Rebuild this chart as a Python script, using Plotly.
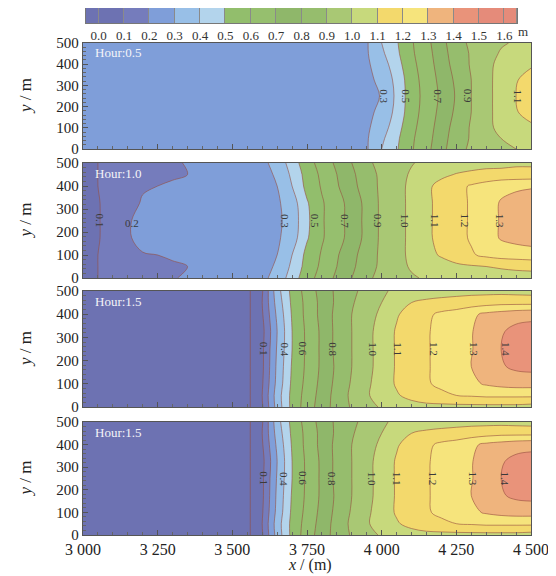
import plotly.graph_objects as go

# ---------------- data ----------------
X_COLS = [3000, 3100, 3200, 3300, 3400, 3500, 3560, 3600, 3650, 3700, 3750, 3800, 3850,
          3900, 3950, 4000, 4050, 4100, 4150, 4200, 4250, 4300, 4350, 4400, 4450, 4500]
Y_ROWS = [0, 50, 100, 175, 250, 325, 400, 450, 500]

# water depth (m), rows follow Y_ROWS (bottom -> top), columns follow X_COLS
DEPTH_H05 = [
    [0.24, 0.24, 0.25, 0.25, 0.25, 0.25, 0.25, 0.25, 0.25, 0.25, 0.25, 0.25, 0.25,
     0.25, 0.29, 0.40, 0.49, 0.59, 0.67, 0.77, 0.86, 0.92, 0.96, 0.98, 1.00, 1.02],
    [0.24, 0.24, 0.25, 0.25, 0.25, 0.25, 0.25, 0.25, 0.25, 0.25, 0.25, 0.26, 0.26,
     0.26, 0.29, 0.38, 0.48, 0.585, 0.66, 0.76, 0.85, 0.91, 0.96, 1.00, 1.03, 1.05],
    [0.24, 0.24, 0.25, 0.25, 0.25, 0.25, 0.25, 0.25, 0.25, 0.25, 0.25, 0.26, 0.26,
     0.26, 0.285, 0.35, 0.46, 0.575, 0.65, 0.75, 0.84, 0.91, 0.97, 1.03, 1.065, 1.085],
    [0.24, 0.24, 0.25, 0.25, 0.25, 0.25, 0.25, 0.25, 0.25, 0.25, 0.25, 0.26, 0.26,
     0.265, 0.28, 0.32, 0.43, 0.56, 0.64, 0.73, 0.82, 0.90, 0.97, 1.04, 1.095, 1.13],
    [0.24, 0.24, 0.25, 0.25, 0.25, 0.25, 0.25, 0.25, 0.25, 0.25, 0.25, 0.26, 0.26,
     0.265, 0.27, 0.305, 0.42, 0.56, 0.63, 0.72, 0.81, 0.90, 0.97, 1.04, 1.10, 1.15],
    [0.24, 0.24, 0.25, 0.25, 0.25, 0.25, 0.25, 0.25, 0.25, 0.25, 0.25, 0.26, 0.26,
     0.265, 0.28, 0.32, 0.43, 0.56, 0.64, 0.73, 0.82, 0.90, 0.97, 1.04, 1.095, 1.13],
    [0.24, 0.24, 0.25, 0.25, 0.25, 0.25, 0.25, 0.25, 0.25, 0.25, 0.25, 0.26, 0.26,
     0.26, 0.285, 0.35, 0.46, 0.575, 0.65, 0.75, 0.84, 0.91, 0.97, 1.03, 1.07, 1.09],
    [0.24, 0.24, 0.25, 0.25, 0.25, 0.25, 0.25, 0.25, 0.25, 0.25, 0.25, 0.26, 0.26,
     0.26, 0.29, 0.38, 0.48, 0.585, 0.66, 0.76, 0.85, 0.91, 0.96, 1.01, 1.04, 1.06],
    [0.24, 0.24, 0.25, 0.25, 0.25, 0.25, 0.25, 0.25, 0.25, 0.25, 0.25, 0.25, 0.25,
     0.25, 0.29, 0.40, 0.49, 0.59, 0.67, 0.77, 0.86, 0.92, 0.96, 0.99, 1.01, 1.03],
]

DEPTH_H10 = [
    [0.08, 0.12, 0.17, 0.197, 0.215, 0.25, 0.26, 0.28, 0.33, 0.45, 0.56, 0.64, 0.72,
     0.80, 0.88, 0.93, 0.97, 0.99, 1.01, 1.03, 1.04, 1.05, 1.06, 1.06, 1.07, 1.07],
    [0.08, 0.12, 0.16, 0.19, 0.21, 0.25, 0.26, 0.275, 0.31, 0.42, 0.54, 0.62, 0.70,
     0.78, 0.86, 0.92, 0.97, 1.01, 1.04, 1.06, 1.08, 1.09, 1.10, 1.11, 1.115, 1.12],
    [0.08, 0.12, 0.19, 0.21, 0.24, 0.26, 0.265, 0.275, 0.30, 0.40, 0.53, 0.61, 0.69,
     0.77, 0.85, 0.92, 0.97, 1.02, 1.07, 1.11, 1.15, 1.19, 1.22, 1.24, 1.25, 1.26],
    [0.08, 0.115, 0.25, 0.26, 0.265, 0.27, 0.27, 0.275, 0.285, 0.35, 0.49, 0.59, 0.66,
     0.74, 0.83, 0.92, 0.97, 1.02, 1.08, 1.13, 1.17, 1.21, 1.25, 1.31, 1.33, 1.34],
    [0.08, 0.115, 0.25, 0.26, 0.265, 0.27, 0.27, 0.275, 0.28, 0.34, 0.48, 0.59, 0.66,
     0.74, 0.83, 0.92, 0.97, 1.02, 1.08, 1.13, 1.17, 1.21, 1.25, 1.31, 1.34, 1.35],
    [0.08, 0.115, 0.21, 0.25, 0.265, 0.27, 0.27, 0.275, 0.285, 0.35, 0.49, 0.59, 0.66,
     0.74, 0.83, 0.92, 0.97, 1.02, 1.08, 1.13, 1.17, 1.21, 1.25, 1.31, 1.34, 1.35],
    [0.08, 0.12, 0.19, 0.21, 0.24, 0.26, 0.265, 0.275, 0.30, 0.40, 0.53, 0.61, 0.69,
     0.77, 0.85, 0.92, 0.97, 1.02, 1.08, 1.13, 1.17, 1.21, 1.24, 1.27, 1.28, 1.29],
    [0.08, 0.12, 0.16, 0.19, 0.21, 0.25, 0.26, 0.275, 0.31, 0.42, 0.54, 0.62, 0.70,
     0.78, 0.86, 0.92, 0.97, 1.01, 1.05, 1.08, 1.105, 1.12, 1.13, 1.135, 1.14, 1.14],
    [0.08, 0.12, 0.17, 0.195, 0.21, 0.25, 0.26, 0.28, 0.33, 0.45, 0.56, 0.64, 0.72,
     0.80, 0.88, 0.93, 0.97, 0.995, 1.02, 1.04, 1.05, 1.06, 1.07, 1.07, 1.08, 1.08],
]

DEPTH_H15 = [
    [0.0, 0.0, 0.0, 0.0, 0.0, 0.0, 0.0, 0.09, 0.34, 0.53, 0.65, 0.75, 0.84,
     0.91, 0.97, 1.01, 1.04, 1.06, 1.07, 1.07, 1.07, 1.07, 1.07, 1.07, 1.07, 1.06],
    [0.0, 0.0, 0.0, 0.0, 0.0, 0.0, 0.0, 0.10, 0.35, 0.53, 0.64, 0.74, 0.84,
     0.92, 0.99, 1.04, 1.09, 1.13, 1.16, 1.18, 1.20, 1.21, 1.22, 1.22, 1.22, 1.22],
    [0.0, 0.0, 0.0, 0.0, 0.0, 0.0, 0.0, 0.09, 0.33, 0.52, 0.63, 0.73, 0.83,
     0.91, 0.98, 1.05, 1.11, 1.15, 1.19, 1.22, 1.25, 1.28, 1.31, 1.33, 1.34, 1.34],
    [0.0, 0.0, 0.0, 0.0, 0.0, 0.0, 0.0, 0.08, 0.32, 0.51, 0.62, 0.72, 0.82,
     0.90, 0.97, 1.04, 1.11, 1.15, 1.19, 1.23, 1.26, 1.30, 1.34, 1.39, 1.42, 1.43],
    [0.0, 0.0, 0.0, 0.0, 0.0, 0.0, 0.0, 0.08, 0.31, 0.50, 0.62, 0.72, 0.83,
     0.90, 0.97, 1.04, 1.11, 1.15, 1.19, 1.23, 1.26, 1.295, 1.34, 1.40, 1.44, 1.46],
    [0.0, 0.0, 0.0, 0.0, 0.0, 0.0, 0.0, 0.07, 0.30, 0.50, 0.62, 0.72, 0.83,
     0.90, 0.97, 1.04, 1.11, 1.15, 1.19, 1.23, 1.26, 1.295, 1.34, 1.39, 1.43, 1.44],
    [0.0, 0.0, 0.0, 0.0, 0.0, 0.0, 0.0, 0.09, 0.32, 0.51, 0.63, 0.73, 0.83,
     0.90, 0.96, 1.02, 1.09, 1.14, 1.18, 1.22, 1.24, 1.28, 1.32, 1.34, 1.36, 1.37],
    [0.0, 0.0, 0.0, 0.0, 0.0, 0.0, 0.0, 0.10, 0.34, 0.52, 0.63, 0.73, 0.82,
     0.89, 0.95, 1.00, 1.06, 1.10, 1.12, 1.13, 1.14, 1.15, 1.16, 1.17, 1.17, 1.17],
    [0.0, 0.0, 0.0, 0.0, 0.0, 0.0, 0.0, 0.09, 0.36, 0.53, 0.64, 0.74, 0.82,
     0.88, 0.93, 0.985, 1.02, 1.04, 1.05, 1.06, 1.065, 1.07, 1.07, 1.07, 1.065, 1.06],
]

PANEL_TITLES = ["Hour:0.5", "Hour:1.0", "Hour:1.5", "Hour:1.5"]
PANEL_DATA = [DEPTH_H05, DEPTH_H10, DEPTH_H15, DEPTH_H15]

# contour labels (text, x position) per panel
LABELS_H05 = [("0.3", 4007), ("0.5", 4081), ("0.7", 4188), ("0.9", 4290), ("1.1", 4455)]
LABELS_H10 = [("0.1", 3057), ("0.3", 3678), ("0.5", 3779), ("0.7", 3879), ("0.9", 3990),
              ("1.0", 4081), ("1.1", 4181), ("1.2", 4282), ("1.3", 4399)]
LABELS_H15 = [("0.1", 3607), ("0.4", 3675), ("0.6", 3738), ("0.8", 3836), ("1.0", 3970),
              ("1.1", 4054), ("1.2", 4175), ("1.3", 4309), ("1.4", 4416)]
PANEL_LABELS = [LABELS_H05, LABELS_H10, LABELS_H15, LABELS_H15]
LABEL_02_H10 = ("0.2", 3165, 240)  # horizontal label

LEVEL_START, LEVEL_END, LEVEL_STEP = 0.0, 1.6, 0.1
# colour of: below 0, 0.0-0.1, 0.1-0.2, ..., 1.5-1.6, above 1.6
BAND_COLORS = ["#6d72b2", "#6d72b2", "#757cbc", "#7f9ed9", "#98bfe7", "#b3d4ec",
               "#92be6c", "#96bf6e", "#8fb76a", "#96bd6d", "#a9c874", "#c7d97c",
               "#f3d96c", "#f6e47c", "#efb47d", "#e9937a", "#e58b7a", "#e58b7a"]
LEGEND_EDGES = [-0.05, 0.0, 0.1, 0.2, 0.3, 0.4, 0.5, 0.6, 0.7, 0.8, 0.9, 1.0,
                1.1, 1.2, 1.3, 1.4, 1.5, 1.6, 1.65]
LEGEND_TICKS = [0.0, 0.1, 0.2, 0.3, 0.4, 0.5, 0.6, 0.7, 0.8, 0.9, 1.0, 1.1,
                1.2, 1.3, 1.4, 1.5, 1.6]
LEGEND_TICK_TEXT = ["0.0", "0.1", "0.2", "0.3", "0.4", "0.5", "0.6", "0.7", "0.8",
                    "0.9", "1.0", "1.1", "1.2", "1.3", "1.4", "1.5", "1.6"]

X_TICKS = [3000, 3250, 3500, 3750, 4000, 4250, 4500]
X_TICK_TEXT = ["3 000", "3 250", "3 500", "3 750", "4 000", "4 250", "4 500"]
Y_TICKS = [0, 100, 200, 300, 400, 500]

# ---------------- layout geometry (screen pixels) ----------------
PAGE_OFFSET = 8          # the page body margin shifts the figure by this much
W, H = 556 - PAGE_OFFSET, 576 - PAGE_OFFSET
PLOT_X = (83, 531)
PANEL_PX = [(43, 149), (163, 278), (291, 407), (422, 535)]
LEG_X = (86, 517)
LEG_Y = (8, 23)
SERIF = "Liberation Serif, Times New Roman, serif"

def px(x):
    return (x - PAGE_OFFSET) / W

def py(y):
    return 1 - (y - PAGE_OFFSET) / H

fig = go.Figure()

n = len(BAND_COLORS) - 1
contour_cs = [[i / n, c] for i, c in enumerate(BAND_COLORS)]

annotations = []
layout = {}
for i, (data, title, labels) in enumerate(zip(PANEL_DATA, PANEL_TITLES, PANEL_LABELS)):
    k = "" if i == 0 else str(i + 1)
    fig.add_trace(go.Contour(
        x=X_COLS, y=Y_ROWS, z=data,
        autocontour=False,
        contours=dict(start=LEVEL_START, end=LEVEL_END, size=LEVEL_STEP,
                      coloring="fill", showlines=True),
        line=dict(color="rgba(150,78,62,0.75)", width=0.8),
        colorscale=contour_cs, showscale=False, hoverinfo="skip",
        xaxis="x" + k, yaxis="y" + k,
    ))
    top, bot = PANEL_PX[i]
    last = i == len(PANEL_DATA) - 1
    layout["xaxis" + k] = dict(
        domain=[px(PLOT_X[0]), px(PLOT_X[1])], range=[3000, 4500], automargin=False,
        anchor="y" + k, showline=True, mirror=True, linecolor="#555", linewidth=1.3,
        ticks="inside", ticklen=5, tickcolor="#555",
        tickvals=X_TICKS, ticktext=X_TICK_TEXT, showticklabels=last,
        minor=dict(ticks="inside", ticklen=3, dtick=50, tickcolor="#666"),
        showgrid=False, zeroline=False,
        tickfont=dict(family=SERIF, size=16, color="#222"),
    )
    layout["yaxis" + k] = dict(
        domain=[py(bot), py(top)], range=[0, 500], anchor="x" + k, automargin=False,
        showline=True, mirror=True, linecolor="#555", linewidth=1.3,
        ticks="inside", ticklen=5, tickcolor="#555", tickvals=Y_TICKS,
        minor=dict(ticks="inside", ticklen=2.5, dtick=20, tickcolor="#666"),
        showgrid=False, zeroline=False,
        tickfont=dict(family=SERIF, size=15, color="#222"),
    )
    annotations.append(dict(
        xref="paper", yref="paper", x=px(93), y=py(top + 10), xanchor="left",
        yanchor="middle", text=title, showarrow=False,
        font=dict(family=SERIF, size=13, color="#f4f4f8"),
    ))
    annotations.append(dict(
        xref="paper", yref="paper", x=px(25), y=py((top + bot) / 2),
        xanchor="center", yanchor="middle",
        text="<i>y</i> / m", textangle=-90, showarrow=False,
        font=dict(family=SERIF, size=17, color="#222"),
    ))
    for txt, xv in labels:
        annotations.append(dict(
            xref="x" + k, yref="y" + k, x=xv, y=250, text=txt, textangle=90,
            xanchor="center", yanchor="middle",
            showarrow=False, font=dict(family=SERIF, size=11, color="#3a3a3a"),
        ))
    if i == 1:
        annotations.append(dict(
            xref="x2", yref="y2", x=LABEL_02_H10[1], y=LABEL_02_H10[2],
            xanchor="center", yanchor="middle",
            text=LABEL_02_H10[0], showarrow=False,
            font=dict(family=SERIF, size=11, color="#3a3a3a"),
        ))

# legend bar
leg_cs = []
for i, c in enumerate(BAND_COLORS):
    leg_cs.append([i / len(BAND_COLORS), c])
    leg_cs.append([(i + 1) / len(BAND_COLORS), c])
fig.add_trace(go.Heatmap(
    x=LEGEND_EDGES, y=[0, 1], z=[[i + 0.5 for i in range(len(BAND_COLORS))]],
    colorscale=leg_cs, zmin=0, zmax=len(BAND_COLORS), showscale=False,
    xgap=1, hoverinfo="skip", xaxis="x5", yaxis="y5",
))
layout["xaxis5"] = dict(
    domain=[px(LEG_X[0]), px(LEG_X[1])], range=[LEGEND_EDGES[0], LEGEND_EDGES[-1]],
    anchor="y5", showline=True, mirror=True, linecolor="#777", linewidth=1,
    tickvals=LEGEND_TICKS, ticktext=LEGEND_TICK_TEXT, ticks="", automargin=False,
    showgrid=False, zeroline=False,
    tickfont=dict(family=SERIF, size=13, color="#333"),
)
layout["yaxis5"] = dict(
    domain=[py(LEG_Y[1]), min(1.0, py(LEG_Y[0]))], range=[0, 1], anchor="x5",
    automargin=False, showline=True, mirror=True, linecolor="#777", linewidth=1,
    showticklabels=False, ticks="", showgrid=False, zeroline=False,
)
annotations.append(dict(
    xref="paper", yref="paper", x=px(523), y=py(31), xanchor="center", yanchor="middle",
    text="m", showarrow=False, font=dict(family=SERIF, size=13, color="#333"),
))
annotations.append(dict(
    xref="paper", yref="paper", x=px(310), y=py(565), xanchor="center", yanchor="middle",
    text="<i>x</i> / (m)", showarrow=False,
    font=dict(family=SERIF, size=16, color="#222"),
))

fig.update_layout(
    width=W, height=H, margin=dict(l=0, r=0, t=0, b=0),
    paper_bgcolor="white", plot_bgcolor="#8a8a8a",
    annotations=annotations, showlegend=False, **layout,
)

fig.write_html("out.html")
